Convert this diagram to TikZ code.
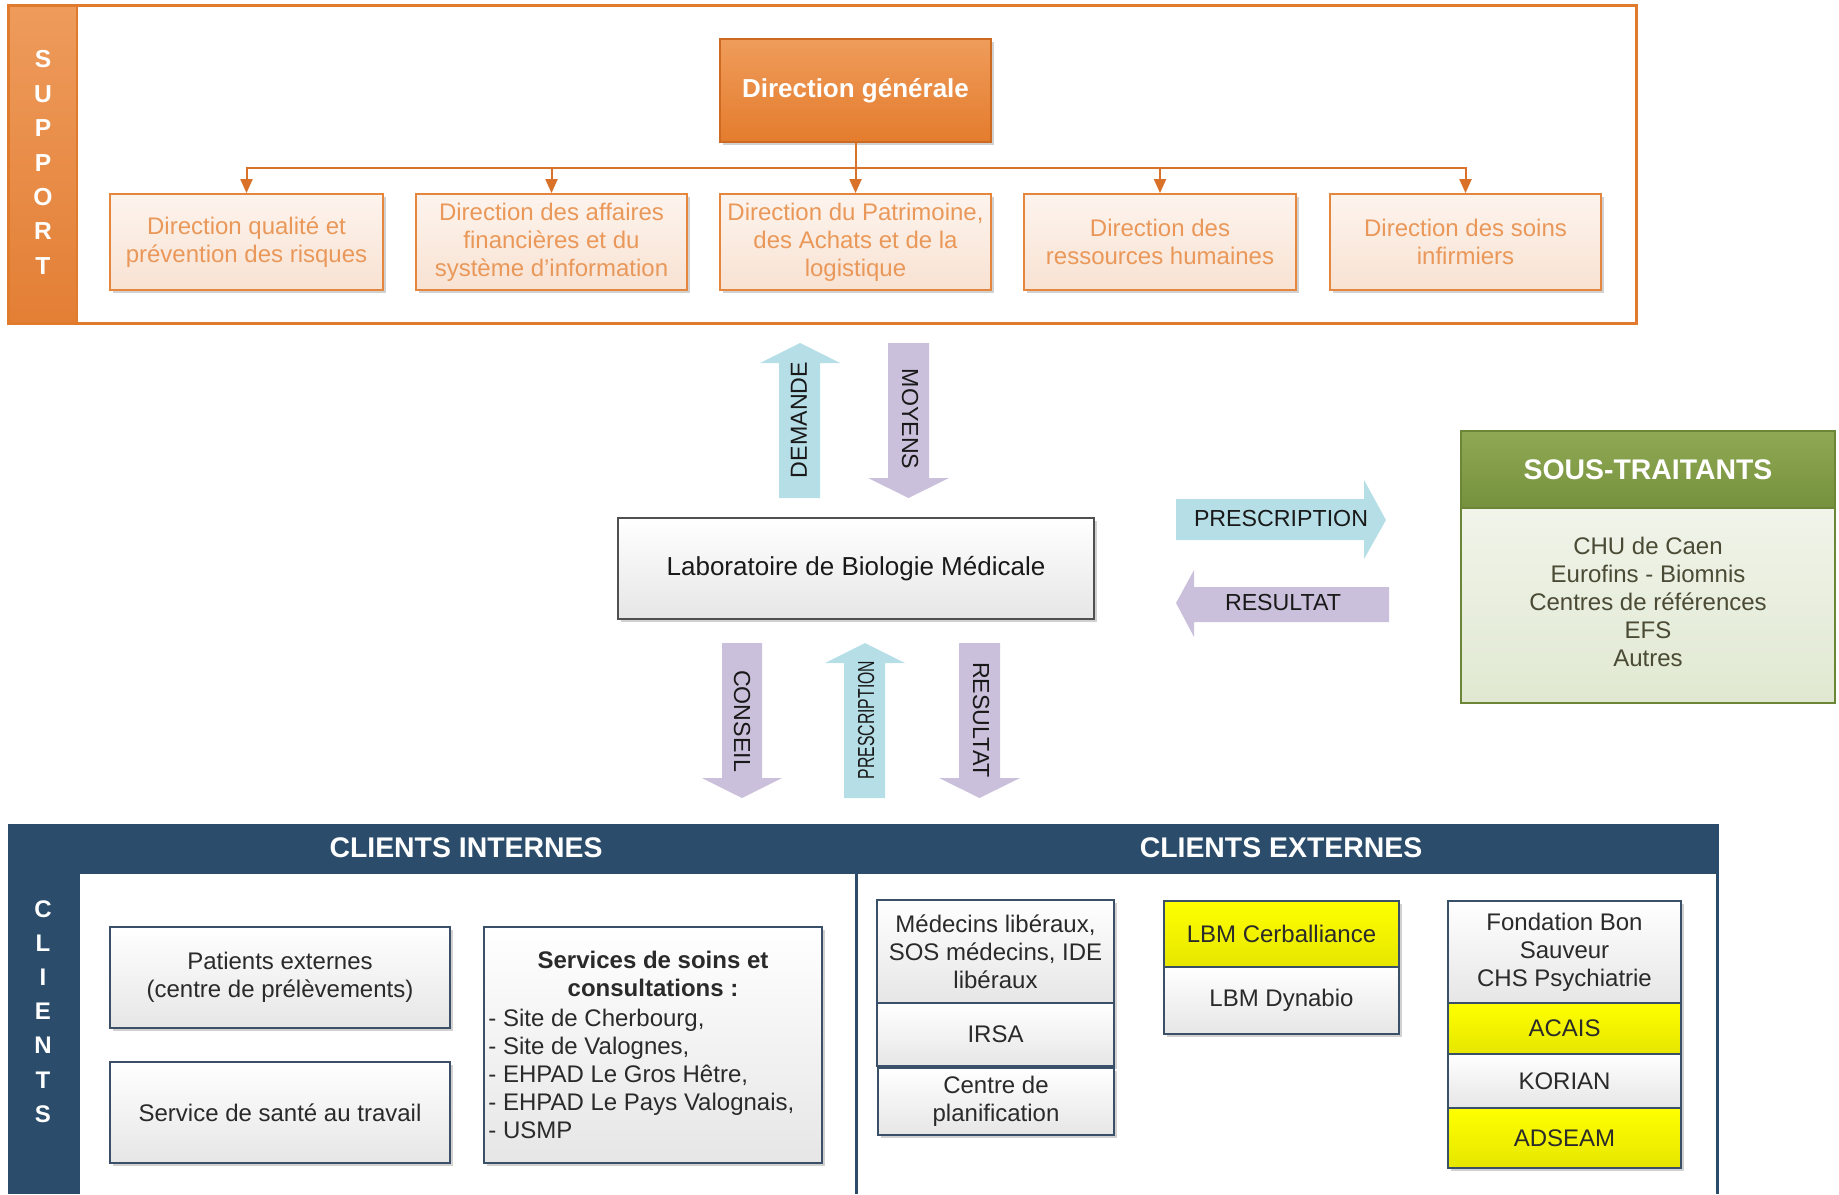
\documentclass[tikz,border=0pt]{standalone}
\usepackage{fontspec}
\usepackage{graphicx}
\setmainfont{Liberation Sans}
\usetikzlibrary{shadows,arrows.meta}
\definecolor{orFrame}{HTML}{E07A2C}
\definecolor{orBarTop}{HTML}{EE9B5C}
\definecolor{orBarBot}{HTML}{E37F35}
\definecolor{orBorder}{HTML}{E4863E}
\definecolor{orText}{HTML}{EA9859}
\definecolor{orBoxTop}{HTML}{FDF4EE}
\definecolor{orBoxBot}{HTML}{F8E2D2}
\definecolor{dgTop}{HTML}{EF9C5B}
\definecolor{dgBot}{HTML}{E47C2D}
\definecolor{dgBorder}{HTML}{CC6A22}
\definecolor{conn}{HTML}{DA7129}
\definecolor{lblue}{HTML}{B6DEE7}
\definecolor{lpurple}{HTML}{CBC0DB}
\definecolor{labBorder}{HTML}{505050}
\definecolor{grTop}{HTML}{8FA853}
\definecolor{grBot}{HTML}{76913D}
\definecolor{grBorder}{HTML}{6B8636}
\definecolor{grBodyTop}{HTML}{F1F4EA}
\definecolor{grBodyBot}{HTML}{E0E8D1}
\definecolor{grText}{HTML}{4A4A35}
\definecolor{navy}{HTML}{2B4D6B}
\definecolor{bBorder}{HTML}{3A5068}
\definecolor{bText}{HTML}{2A2A2A}
\definecolor{yTop}{HTML}{FFFF00}
\definecolor{yBot}{HTML}{E6E600}
\definecolor{grayBot}{HTML}{E6E6E6}
\begin{document}
\begin{tikzpicture}[x=0.5pt,y=-0.5pt,
  wh/.style 2 args={minimum width={#1*0.5pt},minimum height={#2*0.5pt}},
  shad/.style={drop shadow={shadow xshift=1.5pt,shadow yshift=-1.5pt,fill=black,opacity=0.18}},
  basebox/.style={inner sep=0pt,align=center,font=\fontsize{12}{14}\selectfont},
  obox/.style={basebox,draw=orBorder,line width=0.9pt,top color=orBoxTop,bottom color=orBoxBot,text=orText,shad},
  dgbox/.style={basebox,draw=dgBorder,line width=0.9pt,top color=dgTop,bottom color=dgBot,text=white,font=\bfseries\fontsize{13}{15}\selectfont,shad},
  bbox/.style={basebox,draw=bBorder,line width=0.9pt,top color=white,bottom color=grayBot,text=bText,shad},
  ybox/.style={bbox,top color=yTop,bottom color=yBot},
  connline/.style={draw=conn,line width=1pt,-{Triangle[width=6pt,length=7pt]}},
  arrlabel/.style={inner sep=0pt,text=black!90,font=\fontsize{11.6}{13}\selectfont},
  vletters/.style={inner sep=0pt,align=center,text=white,font=\bfseries\fontsize{12.3}{17.2}\selectfont},
  headtxt/.style={inner sep=0pt,text=white,font=\bfseries\fontsize{14.2}{16}\selectfont}
]
\useasboundingbox (0,0) rectangle (1839,1194);

% ---------------- SUPPORT ----------------
\shade[top color=orBarTop,bottom color=orBarBot] (8,5) rectangle (77,323);
\draw[orFrame,line width=1.5pt] (8,5) rectangle (1636,323);
\draw[orFrame,line width=1pt] (77,5) -- (77,323);
\node[vletters] (support) at (43,162.5) {S\\U\\P\\P\\O\\R\\T};

\node[dgbox,wh={271}{103}] (dg) at (855.5,90.5) {Direction générale};

\node[obox,wh={273}{96}] (d1) at (246.5,242) {Direction qualité et\\prévention des risques};
\node[obox,wh={271}{96}] (d2) at (551.5,242) {Direction des affaires\\financières et du\\système d’information};
\node[obox,wh={271}{96}] (d3) at (855.5,242) {Direction du Patrimoine,\\des Achats et de la\\logistique};
\node[obox,wh={272}{96}] (d4) at (1160,242) {Direction des\\ressources humaines};
\node[obox,wh={271}{96}] (d5) at (1465.5,242) {Direction des soins\\infirmiers};

\coordinate (bus) at (855.5,168);
\draw[connline] (dg.south) -- (d3.north);
\foreach \d in {d1,d2,d4,d5}
  \draw[connline] (dg.south) -- (dg.south |- bus) -| (\d.north);

% ---------------- LABORATOIRE ----------------
\node[basebox,draw=labBorder,line width=1pt,top color=white,bottom color=grayBot,text=black!90,
  font=\fontsize{13}{15}\selectfont,shad,wh={476}{101}] (lab) at (856,568.5) {Laboratoire de Biologie Médicale};

% block arrows (up/down)
\fill[lblue] (779,498) -- (779,363) -- (760,363) -- (800,343) -- (840,363) -- (820,363) -- (820,498) -- cycle;
\node[arrlabel,rotate=90] (demande) at (799,420) {DEMANDE};
\fill[lpurple] (888,343) -- (929,343) -- (929,478) -- (949,478) -- (908.5,498) -- (868,478) -- (888,478) -- cycle;
\node[arrlabel,rotate=-90] (moyens) at (910,419) {MOYENS};

\fill[lpurple] (722,643) -- (762,643) -- (762,778) -- (782,778) -- (742,798) -- (702,778) -- (722,778) -- cycle;
\node[arrlabel,rotate=-90] (conseil) at (742,721) {CONSEIL};
\fill[lblue] (844,798) -- (844,663) -- (825,663) -- (865,643) -- (905,663) -- (885,663) -- (885,798) -- cycle;
\node[arrlabel,rotate=90] (prescsmall) at (866,720) {\scalebox{0.68}[1]{PRESCRIPTION}};
\fill[lpurple] (959,643) -- (1000,643) -- (1000,778) -- (1020,778) -- (979.5,798) -- (939,778) -- (959,778) -- cycle;
\node[arrlabel,rotate=-90] (resdown) at (981,720) {RESULTAT};

% block arrows (left/right)
\fill[lblue] (1176,499) -- (1364,499) -- (1364,480) -- (1386,520) -- (1364,559) -- (1364,540) -- (1176,540) -- cycle;
\node[arrlabel] (prescright) at (1281,519) {PRESCRIPTION};
\fill[lpurple] (1389,587) -- (1194,587) -- (1194,570) -- (1176,603) -- (1194,637) -- (1194,622) -- (1389,622) -- cycle;
\node[arrlabel] (resleft) at (1283,603) {RESULTAT};

% ---------------- SOUS-TRAITANTS ----------------
\node[basebox,draw=grBorder,line width=1.3pt,top color=grBodyTop,bottom color=grBodyBot,
  wh={374}{195}] (stbody) at (1648,605.5) {};
\node[basebox,text=grText] (sttext) at (1648,602) {CHU de Caen\\Eurofins - Biomnis\\Centres de références\\EFS\\Autres};
\node[basebox,draw=grBorder,line width=1.3pt,top color=grTop,bottom color=grBot,
  wh={374}{77}] (sthead) at (1648,469.5) {};
\node[headtxt] (sttitle) at (sthead.center) {SOUS-TRAITANTS};

% ---------------- CLIENTS ----------------
\fill[navy] (8,824) rectangle (1719,1194);
\fill[white] (80,874) rectangle (1716,1194);
\fill[navy] (855,874) rectangle (858,1194);
\node[vletters,font=\bfseries\fontsize{12}{17.1}\selectfont] (clients) at (43,1011.5) {C\\L\\I\\E\\N\\T\\S};
\node[headtxt] (ci) at (466,848) {CLIENTS INTERNES};
\node[headtxt] (ce) at (1281,848) {CLIENTS EXTERNES};

\node[bbox,wh={340}{101}] (pat) at (280,977.5) {Patients externes\\(centre de prélèvements)};
\node[bbox,wh={340}{101}] (sst) at (280,1112.5) {Service de santé au travail};
\node[bbox,wh={338}{236}] (soins) at (653,1045) {};
\node[basebox,text=bText,font=\bfseries\fontsize{12}{14}\selectfont] (soinstitle) at (653,974) {Services de soins et\\consultations :};
\node[basebox,text=bText,align=left,anchor=west] (soinslist) at (488,1073.5)
  {- Site de Cherbourg,\\- Site de Valognes,\\- EHPAD Le Gros Hêtre,\\- EHPAD Le Pays Valognais,\\- USMP};

\node[bbox,wh={237}{103}] (med) at (995.5,951.5) {Médecins libéraux,\\SOS médecins, IDE\\libéraux};
\node[bbox,wh={237}{63}] (irsa) at (995.5,1034.5) {IRSA};
\node[bbox,wh={236}{67}] (cpl) at (996,1101.5) {Centre de\\planification};

\node[ybox,wh={235}{66}] (cerb) at (1281.5,934) {LBM Cerballiance};
\node[bbox,wh={235}{67}] (dyn) at (1281.5,1000.5) {LBM Dynabio};

\node[bbox,wh={233}{102}] (fond) at (1564.5,952) {Fondation Bon\\Sauveur\\CHS Psychiatrie};
\node[ybox,wh={233}{51}] (acais) at (1564.5,1028.5) {ACAIS};
\node[bbox,wh={233}{54}] (korian) at (1564.5,1081) {KORIAN};
\node[ybox,wh={233}{60}] (adseam) at (1564.5,1138) {ADSEAM};
\end{tikzpicture}
\end{document}
